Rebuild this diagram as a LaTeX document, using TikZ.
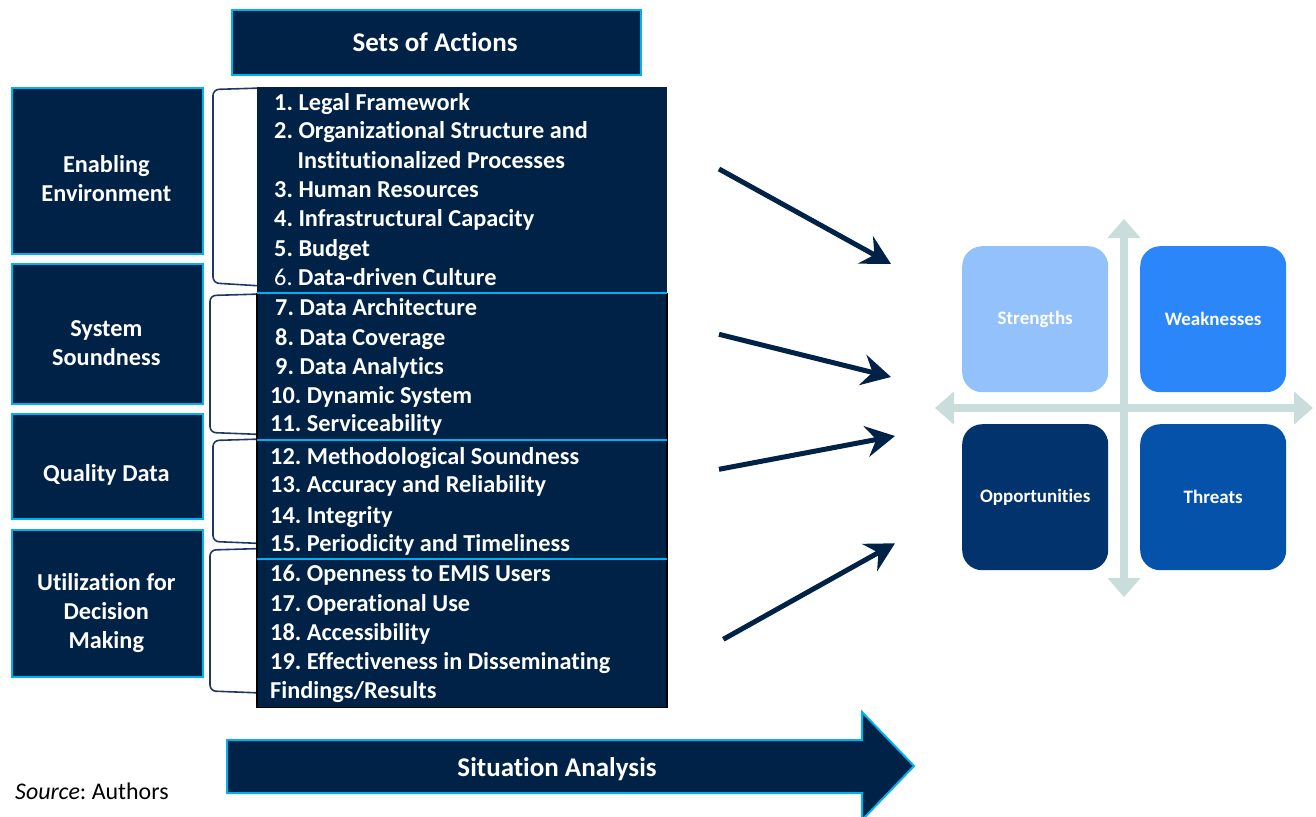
\documentclass[tikz,border=0pt]{standalone}
\usepackage{fontspec}
\setmainfont{Carlito}[Ligatures={NoCommon,NoContextual},Contextuals=NoAlternate]
\usetikzlibrary{arrows.meta}
\definecolor{navy}{RGB}{0,34,71}
\definecolor{cyanb}{RGB}{0,176,240}
\definecolor{brk}{RGB}{31,56,100}
\definecolor{crossc}{RGB}{201,221,221}
\definecolor{swS}{RGB}{147,193,251}
\definecolor{swW}{RGB}{43,135,249}
\definecolor{swO}{RGB}{3,51,108}
\definecolor{swT}{RGB}{5,82,171}
\frenchspacing
\begin{document}
\begin{tikzpicture}[x=1pt,y=-1pt,
  navybox/.style={fill=navy, draw=cyanb, line width=2pt, inner sep=0pt, anchor=north west},
  boxtext/.style={text=white, font=\fontsize{24.3}{29}\selectfont\bfseries, anchor=base, inner sep=0pt},
  bigtext/.style={text=white, font=\fontsize{27}{30}\selectfont\bfseries, anchor=base, inner sep=0pt},
  item/.style={text=white, font=\fontsize{24.3}{29}\selectfont\bfseries, anchor=base west, inner sep=0pt},
  brace/.style={draw=brk, line width=1.6pt, rounded corners=6pt},
  sep/.style={draw=cyanb, line width=2pt},
  swbox/.style={rounded corners=20pt, minimum width=146pt, minimum height=146pt, anchor=north west, inner sep=0pt,
     text=white, font=\fontsize{19}{22}\selectfont\bfseries},
  crossarrow/.style={draw=crossc, line width=8pt, {Triangle[length=19pt,width=32pt]}-{Triangle[length=19pt,width=32pt]}},
  blkarrow/.style={draw=navy, line width=5pt, -{Stealth[length=29pt,width=31pt,inset=10pt]}},
]
\clip (0,0) rectangle (1316,816);

% header
\node[navybox, minimum width=409pt, minimum height=64pt] (hdr) at (231,9.5) {};
\node[bigtext] (hdrt) at (435,51.7) {Sets of Actions};

% left boxes
\node[navybox, minimum width=190.5pt, minimum height=166pt] (ee) at (11,87) {};
\node[navybox, minimum width=190.5pt, minimum height=140pt] (ss) at (11,263) {};
\node[navybox, minimum width=190.5pt, minimum height=105pt] (qd) at (11,413) {};
\node[navybox, minimum width=190.5pt, minimum height=147pt] (ud) at (11,528.5) {};
\node[boxtext] (ee1) at (106.3,172.7) {Enabling};
\node[boxtext] (ee2) at (106.3,201.7) {Environment};
\node[boxtext] (ss1) at (106.3,336) {System};
\node[boxtext] (ss2) at (106.3,365) {Soundness};
\node[boxtext] (qd1) at (106.3,481.7) {Quality Data};
\node[boxtext] (ud1) at (106.3,590) {Utilization for};
\node[boxtext] (ud2) at (106.3,619.3) {Decision};
\node[boxtext] (ud3) at (106.3,648.3) {Making};

% brackets
\draw[brace] (262,88) -- (213,89.5) -- (213,283) -- (262,286);
\draw[brace] (262,294) -- (210,295.5) -- (210,432.5) -- (262,434.5);
\draw[brace] (262,439) -- (213,440.5) -- (213,541.5) -- (262,543.5);
\draw[brace] (262,548.5) -- (210,550) -- (210,691) -- (262,693);

% list box
\node[fill=navy, inner sep=0pt, anchor=north west, minimum width=410pt, minimum height=620pt] (lst) at (257,87) {};
\draw[black, line width=1.3pt] (257,293) -- (257,707.3) -- (667,707.3) -- (667,293);
\draw[sep] (257,293) -- (667,293);
\draw[sep] (257,440.3) -- (667,440.3);
\draw[sep] (257,558.7) -- (667,558.7);

\node[item] (i1) at (274,110) {1. Legal Framework};
\node[item] (i2) at (274,138.3) {2. Organizational Structure and};
\node[item] (i2b) at (297.5,168.3) {Institutionalized Processes};
\node[item] (i3) at (274,197.7) {3. Human Resources};
\node[item] (i4) at (274,226.7) {4. Infrastructural Capacity};
\node[item] (i5) at (274,256) {5. Budget};
\node[item] (i6) at (274,285.7) {{\mdseries 6.} Data-driven Culture};
\node[item] (i7) at (275,315.7) {7. Data Architecture};
\node[item] (i8) at (275,345) {8. Data Coverage};
\node[item] (i9) at (275,374.3) {9. Data Analytics};
\node[item] (i10) at (270,403.3) {10. Dynamic System};
\node[item] (i11) at (270,431.7) {11. Serviceability};
\node[item] (i12) at (270,464) {12. Methodological Soundness};
\node[item] (i13) at (270,492.3) {13. Accuracy and Reliability};
\node[item] (i14) at (270,523.3) {14. Integrity};
\node[item] (i15) at (270,551.7) {15. Periodicity and Timeliness};
\node[item] (i16) at (270,581.7) {16. Openness to EMIS Users};
\node[item] (i17) at (270,611) {17. Operational Use};
\node[item] (i18) at (270,640) {18. Accessibility};
\node[item] (i19) at (270,669.3) {19. Effectiveness in Disseminating};
\node[item] (i19b) at (270,698.3) {Findings/Results};

% SWOT cross
\coordinate (vt) at (1124,219);
\coordinate (vb) at (1124,597);
\coordinate (hl) at (935,408);
\coordinate (hr) at (1313,408);
\draw[crossarrow] (vb) -- (vt);
\draw[crossarrow] (hl) -- (hr);

\node[swbox, fill=swS] (S) at (962,246) {Strengths};
\node[swbox, fill=swW] (W) at (1140,246) {Weaknesses};
\node[swbox, fill=swO] (O) at (962,424) {Opportunities};
\node[swbox, fill=swT] (T) at (1140,424) {Threats};

% black arrows
\coordinate (a1s) at (719,169);   \coordinate (a1e) at (891,264);
\coordinate (a2s) at (719,334.3); \coordinate (a2e) at (891,377);
\coordinate (a3s) at (719,469.3); \coordinate (a3e) at (895,436);
\coordinate (a4s) at (723.3,639.3); \coordinate (a4e) at (895,543.3);
\draw[blkarrow] (a1s) -- (a1e);
\draw[blkarrow] (a2s) -- (a2e);
\draw[blkarrow] (a3s) -- (a3e);
\draw[blkarrow] (a4s) -- (a4e);

% bottom arrow
\draw[fill=navy, draw=cyanb, line width=2pt] (227,740) -- (862,740) -- (862,712) -- (914,766) -- (862,820) -- (862,793) -- (227,793) -- cycle;
\node[bigtext] (sit) at (557,776) {Situation Analysis};

% source
\node[anchor=base west, inner sep=0pt, text=black, font=\fontsize{23.9}{28}\selectfont] (src) at (15,799) {\textit{Source}: Authors};
\end{tikzpicture}
\end{document}
